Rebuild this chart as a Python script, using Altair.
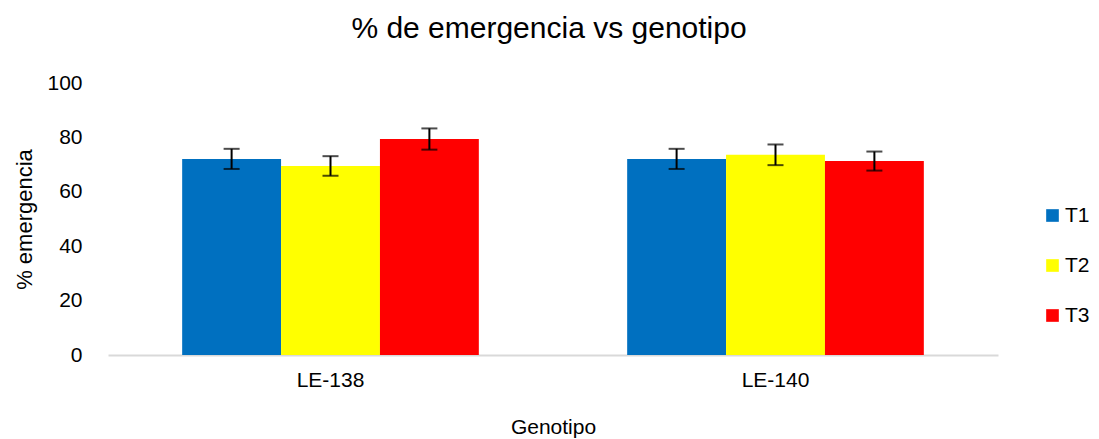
import altair as alt
import pandas as pd

genotipos = ["LE-138", "LE-138", "LE-138", "LE-140", "LE-140", "LE-140"]
tratamientos = ["T1", "T2", "T3", "T1", "T2", "T3"]
valores = [72.1, 69.5, 79.4, 72.1, 73.6, 71.3]
errores = [3.7, 3.6, 3.9, 3.7, 3.8, 3.5]

colores = ["#0070C0", "#FFFF00", "#FF0000"]
orden_trat = ["T1", "T2", "T3"]
y_ticks = [0, 20, 40, 60, 80, 100]

df = pd.DataFrame({
    "Genotipo": genotipos,
    "Tratamiento": tratamientos,
    "valor": valores,
    "err": errores,
})
df["lo"] = df["valor"] - df["err"]
df["hi"] = df["valor"] + df["err"]

FONT = "Liberation Sans"

x_enc = alt.X(
    "Genotipo:N",
    title="Genotipo",
    scale=alt.Scale(paddingInner=1 / 3, paddingOuter=1 / 6),
    axis=alt.Axis(
        labelAngle=0, ticks=False, domainColor="#d9d9d9", domainWidth=2,
        labelFontSize=21, labelPadding=14, titleFontSize=21, titlePadding=26,
        labelFont=FONT, titleFont=FONT, labelColor="black", titleColor="black",
        titleFontWeight="normal",
    ),
)
xoff = alt.XOffset("Tratamiento:N", sort=orden_trat, scale=alt.Scale(paddingInner=0, paddingOuter=0))

y_scale = alt.Scale(domain=[0, 100], nice=False)

bars = alt.Chart(df).mark_bar().encode(
    x=x_enc,
    xOffset=xoff,
    y=alt.Y(
        "valor:Q",
        title="%  emergencia",
        scale=y_scale,
        axis=alt.Axis(
            values=y_ticks, grid=False, ticks=False, domain=False,
            labelFontSize=21, labelPadding=26, titleFontSize=22, titlePadding=10,
            labelFont=FONT, titleFont=FONT, labelColor="black", titleColor="black",
            titleFontWeight="normal",
        ),
    ),
    color=alt.Color(
        "Tratamiento:N",
        sort=orden_trat,
        scale=alt.Scale(domain=orden_trat, range=colores),
        legend=alt.Legend(
            title=None, orient="none", legendX=934, legendY=122,
            symbolType="square", symbolSize=160, symbolStrokeWidth=0,
            labelFontSize=21, labelFont=FONT, labelColor="black",
            rowPadding=28, labelOffset=2,
        ),
    ),
)

rules = alt.Chart(df).mark_rule(color="black", strokeWidth=2).encode(
    x="Genotipo:N",
    xOffset=xoff,
    y=alt.Y("lo:Q", scale=y_scale),
    y2="hi:Q",
)

caps_lo = alt.Chart(df).mark_tick(color="black", thickness=2, size=16, orient="horizontal").encode(
    x="Genotipo:N",
    xOffset=xoff,
    y=alt.Y("lo:Q", scale=y_scale),
)
caps_hi = alt.Chart(df).mark_tick(color="black", thickness=2, size=16, orient="horizontal").encode(
    x="Genotipo:N",
    xOffset=xoff,
    y=alt.Y("hi:Q", scale=y_scale),
)

chart = alt.layer(bars, rules, caps_lo, caps_hi).properties(
    width=890,
    height=272,
    background="white",
    title=alt.TitleParams(
        "% de emergencia vs genotipo", fontSize=30, font=FONT, fontWeight="normal",
        color="black", anchor="middle", offset=28, dx=-4,
    ),
    autosize=alt.AutoSizeParams(type="none"),
    padding={"left": 100, "top": 75, "right": 93, "bottom": 83},
).configure_view(stroke=None)

chart.save("out.html", embed_options={"renderer": "svg", "actions": False})
